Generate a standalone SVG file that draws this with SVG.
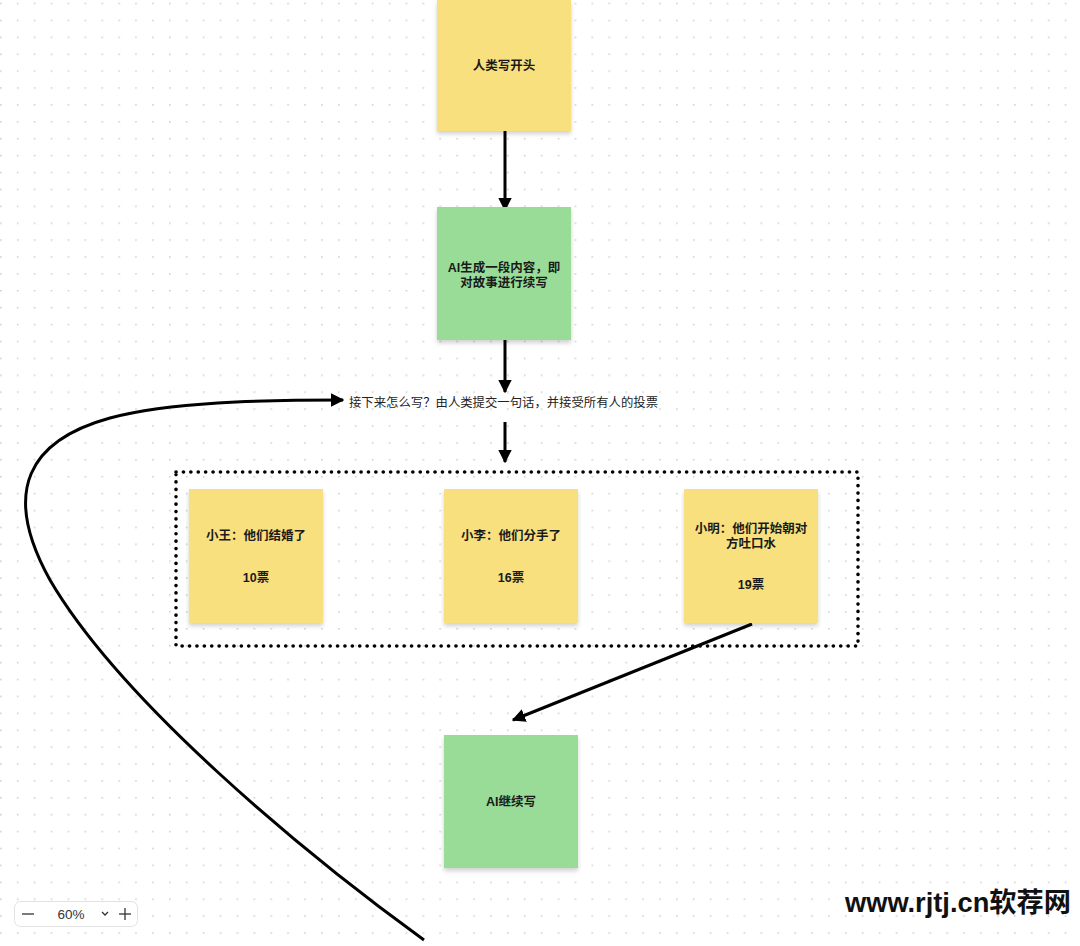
<svg xmlns="http://www.w3.org/2000/svg" width="1080" height="946" viewBox="0 0 1080 946">
<defs>
<pattern id="grid" x="0" y="2.7" width="16.9" height="16.9" patternUnits="userSpaceOnUse">
<circle cx="0.8" cy="0.8" r="0.9" fill="#cfcfcf"/>
</pattern>
<filter id="sh" x="-10%" y="-10%" width="120%" height="125%">
<feDropShadow dx="0" dy="3" stdDeviation="2" flood-color="#000" flood-opacity="0.18"/>
</filter>
<marker id="ah" viewBox="0 0 10 10" refX="9" refY="5" markerWidth="4.5" markerHeight="4.5" orient="auto" markerUnits="strokeWidth">
<path d="M0,0 L10,5 L0,10 z" fill="#000"/>
</marker>
</defs>
<style>
.y{fill:#f9e07e;filter:url(#sh)}
.g{fill:#98dc98;filter:url(#sh)}
.t{font-family:"Liberation Sans","Noto Sans CJK SC",sans-serif;font-size:12.5px;font-weight:bold;fill:#1a1a1a;text-anchor:middle}
.c{stroke:#000;stroke-width:3;fill:none;marker-end:url(#ah)}
</style>
<rect width="1080" height="946" fill="#fff"/>
<rect width="1080" height="946" fill="url(#grid)"/>

<g id="connectors">
<line class="c" x1="505" y1="131" x2="505" y2="210"/>
<line class="c" x1="505" y1="335" x2="505" y2="392"/>
<line class="c" x1="505" y1="422" x2="505" y2="462"/>
<line class="c" x1="752" y1="624" x2="513" y2="720"/>
<path class="c" d="M424 940 C300 850 120 700 50 580 C0 490 30 440 110 418 C170 402 260 400 343 400"/>
</g>

<g id="group-box">
<rect x="176" y="472" width="682" height="174" fill="none" stroke="#000" stroke-width="3.6" stroke-dasharray="0.1 7.3" stroke-linecap="round"/>
</g>

<g id="n1"><rect class="y" x="437" y="0" width="134" height="131"/><text class="t" x="504" y="70">人类写开头</text></g>
<g id="n2"><rect class="g" x="437" y="207" width="134" height="133"/><text class="t" x="504" y="272">AI生成一段内容，即</text><text class="t" x="504" y="287">对故事进行续写</text></g>
<g id="n3"><text x="349" y="407" font-family="Liberation Sans,Noto Sans CJK SC,sans-serif" font-size="12" fill="#222" textLength="309" lengthAdjust="spacingAndGlyphs">接下来怎么写？由人类提交一句话，并接受所有人的投票</text></g>
<g id="n4"><rect class="y" x="189" y="489" width="134" height="134"/><text class="t" x="256" y="540">小王：他们结婚了</text><text class="t" x="256" y="582">10票</text></g>
<g id="n5"><rect class="y" x="444" y="489" width="134" height="134"/><text class="t" x="511" y="540">小李：他们分手了</text><text class="t" x="511" y="582">16票</text></g>
<g id="n6"><rect class="y" x="684" y="489" width="134" height="134"/><text class="t" x="751" y="533">小明：他们开始朝对</text><text class="t" x="751" y="548">方吐口水</text><text class="t" x="751" y="589">19票</text></g>
<g id="n7"><rect class="g" x="444" y="735" width="134" height="133"/><text class="t" x="511" y="806">AI继续写</text></g>

<g id="zoom-control">
<rect x="14.5" y="901.5" width="123" height="25" rx="6" fill="#fff" stroke="#e2e2e2"/>
<line x1="22" y1="914" x2="34" y2="914" stroke="#333" stroke-width="1.3"/>
<text x="71" y="919" font-family="Liberation Sans,sans-serif" font-size="13.5" fill="#333" text-anchor="middle">60%</text>
<path d="M102 912 L105 915 L108 912" fill="none" stroke="#333" stroke-width="1.3"/>
<line x1="119" y1="914" x2="131" y2="914" stroke="#333" stroke-width="1.3"/>
<line x1="125" y1="908" x2="125" y2="920" stroke="#333" stroke-width="1.3"/>
</g>

<g id="watermark">
<text x="845" y="912" font-family="Liberation Sans,Noto Sans CJK SC,sans-serif" font-size="27" font-weight="bold" fill="#111" textLength="226" lengthAdjust="spacingAndGlyphs">www.rjtj.cn软荐网</text>
</g>
</svg>
